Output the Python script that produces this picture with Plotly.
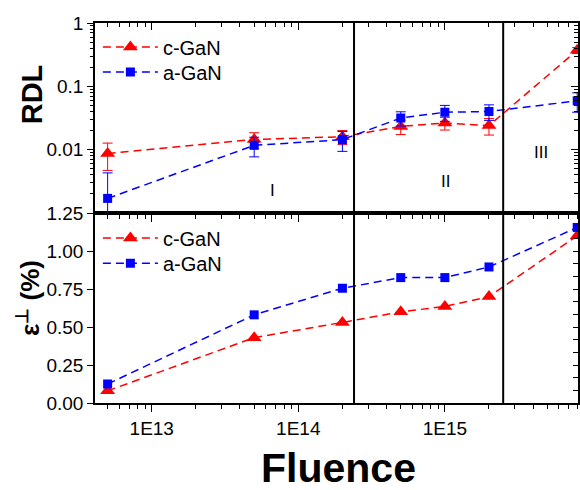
import plotly.graph_objects as go
import math

# ---------------- data ----------------
fluence = [5e12, 5e13, 2e14, 5e14, 1e15, 2e15, 8e15]

rdl_c = [0.0087, 0.0145, 0.016, 0.0233, 0.0264, 0.024, 0.37]
rdl_c_err = [0.004, 0.004, 0.004, 0.006, 0.006, 0.007, 0.04]
rdl_a = [0.0017, 0.0117, 0.0144, 0.0316, 0.039, 0.040, 0.059]
rdl_a_err_plus = [0.0026, 0.004, 0.005, 0.008, 0.011, 0.011, 0.02]
rdl_a_err_minus = [0.0008, 0.004, 0.005, 0.008, 0.011, 0.011, 0.02]

eps_c = [0.08, 0.43, 0.53, 0.60, 0.635, 0.70, 1.10]
eps_a = [0.125, 0.58, 0.755, 0.825, 0.825, 0.895, 1.155]

region_bounds = [2.4e14, 2.5e15]
region_labels = ["I", "II", "III"]

x_tickvals = [1e13, 1e14, 1e15]
x_ticktext = ["1E13", "1E14", "1E15"]
rdl_tickvals = [0.01, 0.1, 1]
rdl_ticktext = ["0.01", "0.1", "1"]
eps_tickvals = [0, 0.25, 0.5, 0.75, 1.0, 1.25]
eps_ticktext = ["0.00", "0.25", "0.50", "0.75", "1.00", "1.25"]

RED = "#FF0000"
BLUE = "#0000FF"
FONT = "Liberation Sans, Arial, sans-serif"

x_minor = [m * 10 ** e for e in range(12, 16) for m in range(2, 10)]
y_minor = [m * 10 ** e for e in range(-3, 0) for m in range(2, 10)]

xrange = [math.log10(4.1e12), math.log10(8.1e15)]

fig = go.Figure()

dash = "8px,5px"
# top panel
fig.add_trace(go.Scatter(
    x=fluence, y=rdl_c, name="c-GaN", mode="lines+markers",
    xaxis="x2", yaxis="y2", legend="legend",
    line=dict(color=RED, width=1.5, dash=dash),
    marker=dict(symbol="triangle-up", size=13, color=RED),
    error_y=dict(type="data", array=rdl_c_err, color=RED, thickness=1, width=5),
))
fig.add_trace(go.Scatter(
    x=fluence, y=rdl_a, name="a-GaN", mode="lines+markers",
    xaxis="x2", yaxis="y2", legend="legend2",
    line=dict(color=BLUE, width=1.5, dash=dash),
    marker=dict(symbol="square", size=9, color=BLUE),
    error_y=dict(type="data", array=rdl_a_err_plus, arrayminus=rdl_a_err_minus,
                 color=BLUE, thickness=1, width=5),
))
# bottom panel
fig.add_trace(go.Scatter(
    x=fluence, y=eps_c, name="c-GaN", mode="lines+markers",
    xaxis="x", yaxis="y", legend="legend3",
    line=dict(color=RED, width=1.5, dash=dash),
    marker=dict(symbol="triangle-up", size=13, color=RED),
))
fig.add_trace(go.Scatter(
    x=fluence, y=eps_a, name="a-GaN", mode="lines+markers",
    xaxis="x", yaxis="y", legend="legend4",
    line=dict(color=BLUE, width=1.5, dash=dash),
    marker=dict(symbol="square", size=9, color=BLUE),
))
# dummy traces for overlay axes
for xa, ya in [("x3", "y2"), ("x2", "y3"), ("x", "y4")]:
    fig.add_trace(go.Scatter(x=[None], y=[None], xaxis=xa, yaxis=ya,
                             showlegend=False, hoverinfo="skip"))

tickfont = dict(family=FONT, size=19, color="black")
common_line = dict(showline=True, linecolor="black", linewidth=1.5,
                   showgrid=False, zeroline=False, tickcolor="black",
                   tickwidth=1.2)


def leg(y):
    return dict(x=0.006, y=y, xanchor="left", yanchor="middle",
                bgcolor="rgba(0,0,0,0)", itemwidth=55,
                font=dict(family=FONT, size=20, color="black"))


fig.update_layout(
    width=580, height=490,
    margin=dict(l=95, r=2, t=23, b=87, autoexpand=False),
    paper_bgcolor="white", plot_bgcolor="white",
    font=dict(family=FONT, color="black"),
    xaxis=dict(domain=[0, 1], anchor="y", type="log", range=xrange,
               tickvals=x_tickvals, ticktext=x_ticktext, ticks="outside",
               ticklen=7, tickfont=tickfont, mirror=True,
               minor=dict(tickvals=x_minor, ticks="outside", ticklen=4,
                          tickcolor="black"),
               **common_line),
    yaxis=dict(domain=[0, 0.5], anchor="x", range=[0, 1.25],
               tickvals=eps_tickvals, ticktext=eps_ticktext, ticks="outside",
               ticklen=6, tickfont=tickfont, mirror=True, **common_line),
    xaxis2=dict(domain=[0, 1], anchor="y2", type="log", range=xrange,
                matches="x", tickvals=x_tickvals, showticklabels=False,
                ticks="outside", ticklen=7, mirror=True,
                minor=dict(tickvals=x_minor, ticks="outside", ticklen=4,
                           tickcolor="black"),
                **common_line),
    yaxis2=dict(domain=[0.5, 1], anchor="x2", type="log", range=[-3, 0],
                tickvals=rdl_tickvals, ticktext=rdl_ticktext, ticks="outside",
                ticklen=6, tickfont=tickfont, mirror=True,
                minor=dict(tickvals=y_minor, ticks="outside", ticklen=3,
                           tickcolor="black"),
                **common_line),
    xaxis3=dict(overlaying="x2", side="top", anchor="y2", type="log",
                range=xrange, tickvals=x_tickvals, showticklabels=False,
                ticks="inside", ticklen=7,
                minor=dict(tickvals=x_minor, ticks="inside", ticklen=4,
                           tickcolor="black"),
                **common_line),
    yaxis3=dict(overlaying="y2", side="right", anchor="x2", type="log",
                range=[-3, 0], tickvals=[0.001, 0.01, 0.1, 1],
                showticklabels=False, ticks="inside", ticklen=7,
                minor=dict(tickvals=y_minor, ticks="inside", ticklen=4,
                           tickcolor="black"),
                **common_line),
    yaxis4=dict(overlaying="y", side="right", anchor="x", range=[0, 1.25],
                tick0=0, dtick=0.25 / 3, showticklabels=False,
                ticks="inside", ticklen=5, **common_line),
    legend=leg(0.937),
    legend2=leg(0.871),
    legend3=leg(0.434),
    legend4=leg(0.368),
    showlegend=True,
)

for xb in region_bounds:
    fig.add_shape(type="line", xref="x", yref="paper", x0=xb, x1=xb,
                  y0=0, y1=1, line=dict(color="black", width=2))

region_pos = [(0.3685, 0.5605), (0.7267, 0.5842), (0.9234, 0.6579)]
for lab, (px, py) in zip(region_labels, region_pos):
    fig.add_annotation(text=lab, xref="paper", yref="paper", x=px, y=py,
                       xanchor="center", yanchor="middle",
                       showarrow=False, font=dict(family=FONT, size=17))

fig.add_annotation(text="<b>RDL</b>", xref="paper", yref="paper",
                   x=-0.130, y=0.813, textangle=-90, showarrow=False,
                   xanchor="center", yanchor="middle",
                   font=dict(family=FONT, size=29))
fig.add_annotation(text="<b>ε<sup>⊥</sup> (%)</b>", xref="paper", yref="paper",
                   x=-0.139, y=0.276, textangle=-90, showarrow=False,
                   xanchor="center", yanchor="middle",
                   font=dict(family=FONT, size=26))
fig.add_annotation(text="<b>Fluence</b>", xref="paper", yref="paper",
                   x=0.505, y=-0.171, showarrow=False,
                   xanchor="center", yanchor="middle",
                   font=dict(family=FONT, size=41))

# remove the default 8px page margin so the 580x490 figure fills the window
fig.write_html("out.html",
               config={"displayModeBar": False},
               post_script="document.body.style.margin='0';"
                           "document.body.style.overflow='hidden';")
